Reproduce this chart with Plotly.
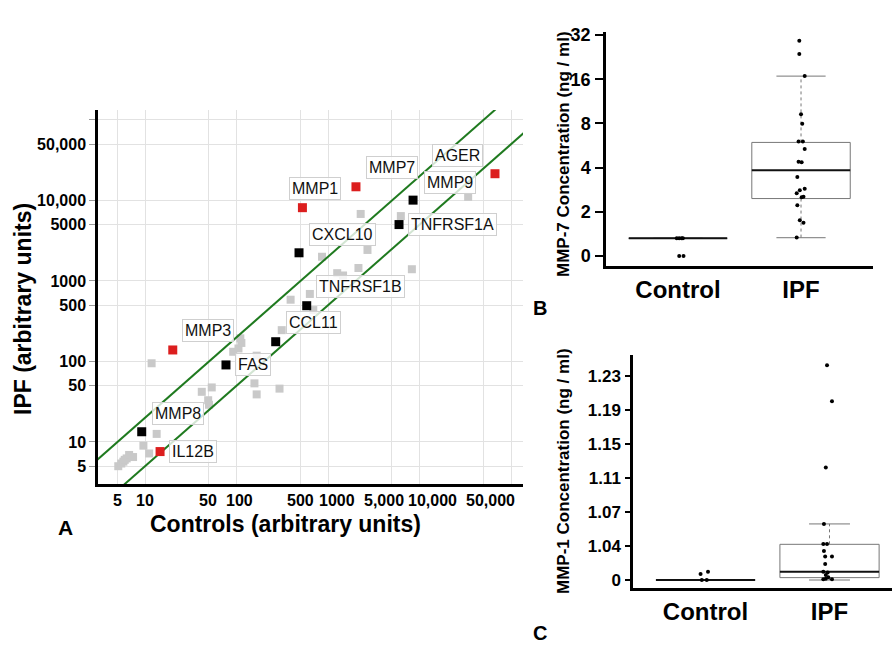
import numpy as np
import plotly.graph_objects as go

FONT = "Liberation Sans, Arial, Helvetica, sans-serif"

# ---------------- Panel A data ----------------
grid_vals = [5, 10, 50, 100, 500, 1000, 5000, 10000, 50000, 100000]
x_tick_vals = [5, 10, 50, 100, 500, 1000, 5000, 10000, 50000]
x_tick_text = ["5", "10", "50", "100", "500", "1000", "5,000", "10,000", "50,000"]
x_tick_shift = [0, 0, -1, 3, 0, 9, -8, 13, 7]
y_tick_text = ["5", "10", "50", "100", "500", "1000", "5000", "10,000", "50,000", ""]

gray_controls = [5.1, 5.5, 5.8, 6.0, 6.3, 6.7, 7.4, 9.6, 11.1, 13.4, 11.8, 41.7, 53.6, 49, 50,
                 92, 105, 110, 113, 166, 157, 166, 295, 312, 390, 633, 690, 860, 1260, 1460,
                 2150, 2700, 8250, 2275, 6250, 34000]
gray_ipf = [5.0, 5.4, 5.7, 6.0, 6.25, 6.9, 6.5, 9.0, 7.2, 12.6, 95, 42, 47.6, 33, 29,
            132, 145, 194, 170, 118, 53.5, 39, 46, 245, 585, 690, 435, 2000, 1250, 1170,
            1450, 2430, 1400, 6800, 6400, 11100]

genes = ["MMP1", "MMP7", "AGER", "MMP9", "TNFRSF1A", "CXCL10", "TNFRSF1B", "CCL11",
         "FAS", "MMP3", "MMP8", "IL12B"]
gene_controls = [525, 2020, 66800, 8500, 5970, 482, 585, 268, 76.7, 20.1, 9.2, 14.6]
gene_ipf = [8140, 14800, 21500, 10100, 5020, 2240, 493, 176, 90.6, 139, 13.4, 7.6]
gene_highlight = [True, True, True, False, False, False, False, False, False, True, False, True]
label_dx = [13, 36, -37, 37, 53, 43, 54, 38, 27, 35, 36, 33]
label_dy = [19, 19, 18, 18, 0, 18, 19, 19, 0, 19, 18, 0]

fold_lines = [2.0, 0.5]
line_x = [1, 1e6]

# ---------------- Panel B data (log2 position units) ----------------
b_tick_pos = [0, 1, 2, 3, 4, 5]
b_tick_text = ["0", "2", "4", "8", "16", "32"]
mmp7_control = [0.0, 0.0, 0.40, 0.40, 0.40, 0.40]
mmp7_control_dx = [0.01, 0.045, -0.01, 0.01, 0.03, 0.04]
mmp7_ipf = [4.87, 4.57, 4.07, 3.21, 2.99, 2.59, 2.59, 2.42, 2.13, 2.12, 1.79, 1.52, 1.49,
            1.42, 1.33, 1.34, 1.15, 0.81, 0.75, 0.42]
mmp7_ipf_dx = [-0.014, -0.014, 0.03, 0.0, 0.01, -0.02, 0.015, 0.03, -0.02, 0.005, -0.03,
               0.03, -0.01, -0.035, 0.005, 0.02, -0.03, -0.01, 0.02, -0.035]
mmp7_q1 = [0.40, 1.30]
mmp7_median = [0.40, 1.94]
mmp7_q3 = [0.40, 2.57]
mmp7_low = [0.40, 0.414]
mmp7_high = [0.40, 4.07]

# ---------------- Panel C data (position units) ----------------
c_tick_pos = [0, 1, 2, 3, 4, 5, 6]
c_tick_text = ["0", "1.04", "1.07", "1.11", "1.15", "1.19", "1.23"]
mmp1_control = [0.18, 0.24, 0.0, 0.0]
mmp1_control_dx = [-0.04, 0.02, -0.03, 0.01]
mmp1_ipf = [6.32, 5.26, 3.31, 1.65, 1.06, 1.06, 0.85, 0.69, 0.69, 0.47, 0.24, 0.22, 0.15,
            0.02, 0.04, 0.08, 0.02]
mmp1_ipf_dx = [-0.02, 0.02, -0.03, -0.045, -0.05, -0.02, -0.045, -0.035, 0.02, -0.035,
               -0.05, -0.015, -0.03, -0.05, -0.03, -0.01, 0.02]
mmp1_q1 = [0.0, 0.07]
mmp1_median = [0.0, 0.24]
mmp1_q3 = [0.0, 1.05]
mmp1_low = [0.0, 0.0]
mmp1_high = [0.0, 1.65]

groups = [1, 2]
group_names = ["Control", "IPF"]

fig = go.Figure()

# Panel A
fig.add_trace(go.Scatter(x=gray_controls, y=gray_ipf, mode="markers", xaxis="x", yaxis="y",
                         marker=dict(symbol="square", size=8, color="#c9c9c9"),
                         showlegend=False, hoverinfo="skip"))
for k in fold_lines:
    fig.add_trace(go.Scatter(x=line_x, y=[v * k for v in line_x], mode="lines",
                             xaxis="x", yaxis="y", line=dict(color="#1f7a1f", width=2),
                             showlegend=False, hoverinfo="skip"))
colors = ["#dc1e1e" if h else "#000000" for h in gene_highlight]
fig.add_trace(go.Scatter(x=gene_controls, y=gene_ipf, mode="markers", xaxis="x", yaxis="y",
                         marker=dict(symbol="square", size=9, color=colors),
                         showlegend=False, text=genes))

annotations = []
for g, xv, yv, dx, dy in zip(genes, gene_controls, gene_ipf, label_dx, label_dy):
    annotations.append(dict(x=np.log10(xv), y=np.log10(yv), xref="x", yref="y", text=g,
                            showarrow=False, xshift=dx, yshift=dy,
                            xanchor="center", yanchor="middle",
                            font=dict(family=FONT, size=16, color="#111"),
                            bgcolor="rgba(255,255,255,0.8)", bordercolor="#cfcfcf",
                            borderwidth=1, borderpad=2))

# Panel B / C points
fig.add_trace(go.Scatter(x=[1 + d for d in mmp7_control_dx], y=mmp7_control, mode="markers",
                         xaxis="x2", yaxis="y2", marker=dict(size=4, color="black"),
                         showlegend=False))
fig.add_trace(go.Scatter(x=[2 + d for d in mmp7_ipf_dx], y=mmp7_ipf, mode="markers",
                         xaxis="x2", yaxis="y2", marker=dict(size=4, color="black"),
                         showlegend=False))
fig.add_trace(go.Scatter(x=[1 + d for d in mmp1_control_dx], y=mmp1_control, mode="markers",
                         xaxis="x3", yaxis="y3", marker=dict(size=4, color="black"),
                         showlegend=False))
fig.add_trace(go.Scatter(x=[2 + d for d in mmp1_ipf_dx], y=mmp1_ipf, mode="markers",
                         xaxis="x3", yaxis="y3", marker=dict(size=4, color="black"),
                         showlegend=False))

shapes = []


def add_boxes(xr, yr, q1s, meds, q3s, lows, highs, half=0.4, cap=0.2):
    for c, q1, md, q3, lo, hi in zip(groups, q1s, meds, q3s, lows, highs):
        shapes.append(dict(type="line", xref=xr, yref=yr, x0=c, x1=c, y0=q3, y1=hi,
                           line=dict(color="#777", width=1, dash="dot"), layer="below"))
        shapes.append(dict(type="line", xref=xr, yref=yr, x0=c, x1=c, y0=q1, y1=lo,
                           line=dict(color="#777", width=1, dash="dot"), layer="below"))
        for v in (lo, hi):
            shapes.append(dict(type="line", xref=xr, yref=yr, x0=c - cap, x1=c + cap,
                               y0=v, y1=v, line=dict(color="#777", width=1), layer="below"))
        shapes.append(dict(type="rect", xref=xr, yref=yr, x0=c - half, x1=c + half,
                           y0=q1, y1=q3, line=dict(color="#777", width=1), layer="below"))
        shapes.append(dict(type="line", xref=xr, yref=yr, x0=c - half, x1=c + half,
                           y0=md, y1=md, line=dict(color="#111", width=2), layer="below"))


add_boxes("x2", "y2", mmp7_q1, mmp7_median, mmp7_q3, mmp7_low, mmp7_high, 0.4, 0.2)
add_boxes("x3", "y3", mmp1_q1, mmp1_median, mmp1_q3, mmp1_low, mmp1_high, 0.4, 0.165)

W, H = 892, 649


def px(xp):
    return xp / W


def py(yp):
    return 1 - yp / H


bold = dict(family=FONT, color="black", weight="bold")

# x tick labels of panel A (placed at the tick values, nudged apart like the original)
for v, t, s in zip(x_tick_vals, x_tick_text, x_tick_shift):
    annotations.append(dict(x=np.log10(v), y=py(500.5), xref="x", yref="paper", text=t,
                            showarrow=False, xshift=s, xanchor="center", yanchor="middle",
                            font=dict(bold, size=16)))


def txt(text, x, y, size, angle=0):
    return dict(text=text, x=px(x), y=py(y), xref="paper", yref="paper", showarrow=False,
                xanchor="center", yanchor="middle", textangle=angle,
                font=dict(bold, size=size))


annotations += [
    txt("Controls (arbitrary units)", 285, 524, 23),
    txt("IPF (arbitrary units)", 23, 309, 23, -90),
    txt("A", 65, 527, 21),
    txt("MMP-7 Concentration (ng / ml)", 563, 154, 17, -90),
    txt("MMP-1 Concentration (ng / ml)", 563, 471, 17, -90),
    txt("B", 540, 308, 20),
    txt("C", 540, 633, 20),
]

fig.update_layout(
    width=W, height=H, autosize=False,
    margin=dict(l=0, r=0, t=0, b=0, pad=0),
    paper_bgcolor="white", plot_bgcolor="white",
    showlegend=False,
    font=dict(family=FONT, color="black"),
    xaxis=dict(type="log", domain=[px(98), px(523)], range=[0.486, 5.131], anchor="y",
               tickvals=grid_vals, showticklabels=False, showgrid=True, gridcolor="#e2e2e2",
               gridwidth=1, showline=True, linecolor="black", linewidth=2.5, ticks="",
               automargin=False, zeroline=False),
    yaxis=dict(type="log", domain=[py(484), py(110)], range=[0.478, 5.124], anchor="x",
               tickvals=grid_vals, ticktext=y_tick_text, showgrid=True, gridcolor="#e2e2e2",
               gridwidth=1, showline=True, linecolor="black", linewidth=2.5, ticks="outside",
               ticklen=6, tickcolor="#999", tickwidth=1, automargin=False,
               tickfont=dict(family=FONT, size=16, weight="bold"), zeroline=False),
    xaxis2=dict(domain=[px(606), px(873)], range=[0.415, 2.585], anchor="y2",
                tickvals=groups, ticktext=group_names, showgrid=False, zeroline=False,
                showline=True, linecolor="black", linewidth=2.5, ticks="", tickangle=0,
                automargin=False, tickfont=dict(family=FONT, size=24, weight="bold")),
    yaxis2=dict(domain=[py(266), py(31.7)], range=[-0.226, 5.075], anchor="x2",
                tickvals=b_tick_pos, ticktext=b_tick_text, showgrid=False, zeroline=False,
                showline=True, linecolor="black", linewidth=2.5, ticks="outside",
                ticklen=8, tickwidth=2, tickcolor="black", ticklabelstandoff=1,
                automargin=False, tickfont=dict(family=FONT, size=18, weight="bold")),
    xaxis3=dict(domain=[px(633), 1.0], range=[0.415, 2.504], anchor="y3",
                tickvals=groups, ticktext=group_names, showgrid=False, zeroline=False,
                showline=True, linecolor="black", linewidth=2.5, ticks="", tickangle=0,
                automargin=False, tickfont=dict(family=FONT, size=24, weight="bold")),
    yaxis3=dict(domain=[py(588), py(355)], range=[-0.235, 6.62], anchor="x3",
                tickvals=c_tick_pos, ticktext=c_tick_text, showgrid=False, zeroline=False,
                showline=True, linecolor="black", linewidth=2.5, ticks="outside",
                ticklen=5, tickwidth=2, tickcolor="black", ticklabelstandoff=1,
                automargin=False, tickfont=dict(family=FONT, size=17, weight="bold")),
    shapes=shapes,
    annotations=annotations,
)

fig.write_html("out.html", config={"displayModeBar": False},
               post_script="document.body.style.margin='0px';")
